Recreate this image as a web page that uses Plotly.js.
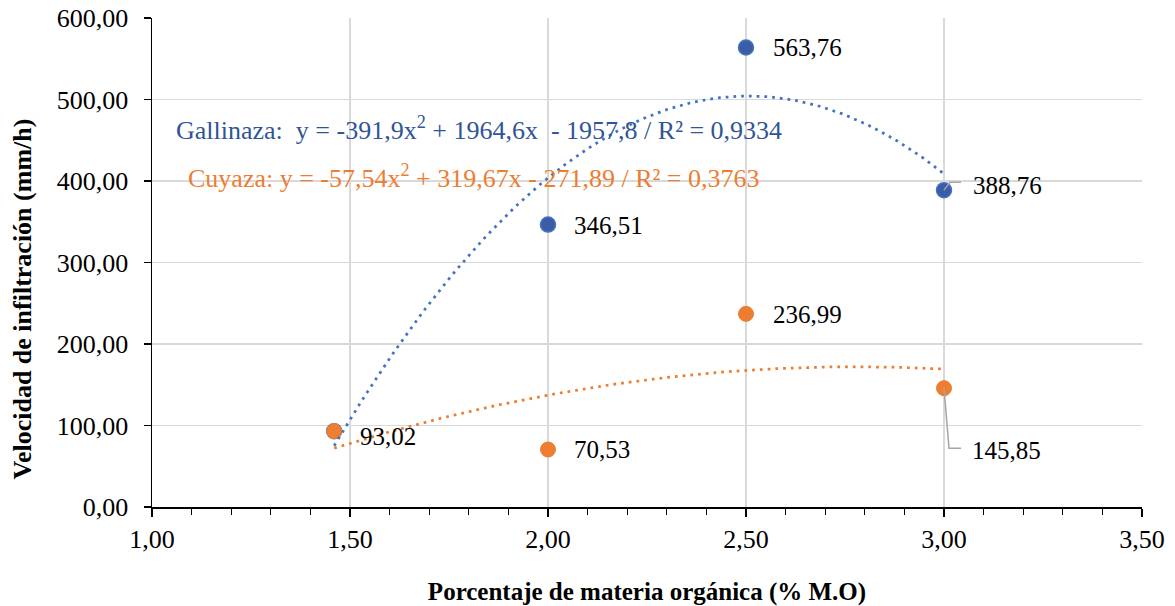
<!DOCTYPE html>
<html>
<head>
<meta charset="utf-8">
<script src="https://cdn.plot.ly/plotly-3.0.1.min.js"></script>
<style>html,body{margin:0;padding:0;background:#fff;}#chart{width:1175px;height:606px;}</style>
</head>
<body>
<div id="chart"></div>
<script>
// ---- data ----
const seriesNames = ["Gallinaza", "Cuyaza"];
const xGallinaza = [1.46, 2.00, 2.50, 3.00];
const yGallinaza = [93.02, 346.51, 563.76, 388.76];
const xCuyaza = [1.46, 2.00, 2.50, 3.00];
const yCuyaza = [93.02, 70.53, 236.99, 145.85];
const equationGallinaza = "Gallinaza:  y = -391,9x<sup>2</sup> + 1964,6x  - 1957,8 / R² = 0,9334";
const equationCuyaza = "Cuyaza: y = -57,54x<sup>2</sup> + 319,67x - 271,89 / R² = 0,3763";
const xTitle = "Porcentaje de materia orgánica (% M.O)";
const yTitle = "Velocidad de infiltración (mm/h)";

// ---- styles ----
const FONT = 'Liberation Serif, Times New Roman, serif';
const BLUE = '#4472C4', BLUE_DARK = '#3A5DA6', BLUE_TEXT = '#2F5597', ORANGE = '#ED7D31';

// least squares quadratic fit (trendline as computed by the spreadsheet)
function quadFit(xs, ys) {
  let S = [0,0,0,0,0], T = [0,0,0];
  for (let i = 0; i < xs.length; i++) {
    let p = 1;
    for (let k = 0; k < 5; k++) { S[k] += p; p *= xs[i]; }
    p = 1;
    for (let k = 0; k < 3; k++) { T[k] += p * ys[i]; p *= xs[i]; }
  }
  const A = [[S[0],S[1],S[2],T[0]],[S[1],S[2],S[3],T[1]],[S[2],S[3],S[4],T[2]]];
  for (let c = 0; c < 3; c++) {
    for (let r = c + 1; r < 3; r++) {
      const f = A[r][c] / A[c][c];
      for (let k = c; k < 4; k++) A[r][k] -= f * A[c][k];
    }
  }
  const b = [0,0,0];
  for (let r = 2; r >= 0; r--) {
    let s = A[r][3];
    for (let k = r + 1; k < 3; k++) s -= A[r][k] * b[k];
    b[r] = s / A[r][r];
  }
  return b; // c0, c1, c2
}
function trend(xs, ys) {
  const b = quadFit(xs, ys);
  const lo = Math.min(...xs), hi = Math.max(...xs);
  const tx = [], ty = [];
  const n = 120;
  for (let i = 0; i <= n; i++) {
    const x = lo + (hi - lo) * i / n;
    tx.push(x); ty.push(b[0] + b[1] * x + b[2] * x * x);
  }
  return {x: tx, y: ty};
}
const tG = trend(xGallinaza, yGallinaza);
const tC = trend(xCuyaza, yCuyaza);

const traces = [
  {x: xGallinaza, y: yGallinaza, name: seriesNames[0], type: 'scatter', mode: 'markers',
   marker: {size: 15, color: BLUE_DARK, line: {color: BLUE, width: 1.5}}, cliponaxis: false},
  {x: xCuyaza, y: yCuyaza, name: seriesNames[1], type: 'scatter', mode: 'markers',
   marker: {size: 15, color: ORANGE, line: {color: ORANGE, width: 1}}, cliponaxis: false},
  {x: tG.x, y: tG.y, type: 'scatter', mode: 'lines', line: {color: BLUE, width: 2.75, dash: '2.75px,5px'}, hoverinfo: 'skip'},
  {x: tC.x, y: tC.y, type: 'scatter', mode: 'lines', line: {color: ORANGE, width: 2.75, dash: '2.75px,5px'}, hoverinfo: 'skip'}
];

function fmt(v) { return v.toFixed(2).replace('.', ','); }

// label placement (pixel offsets) per series / point
const labelOffsets = [
  [[24, -5], [24, -1], [25, 0], [27, 5]],
  [null, [24, 0], [25, -1], [26, -62]]
];
const annotations = [];
[[xGallinaza, yGallinaza], [xCuyaza, yCuyaza]].forEach((s, si) => {
  s[0].forEach((x, i) => {
    const off = labelOffsets[si][i];
    if (!off) return;
    annotations.push({x: x, y: s[1][i], xref: 'x', yref: 'y', text: fmt(s[1][i]), showarrow: false,
      xanchor: 'left', yanchor: 'middle', xshift: off[0], yshift: off[1],
      font: {family: FONT, size: 25, color: '#000'}});
  });
});
annotations.push({x: 1.056, y: 465, xref: 'x', yref: 'y', text: equationGallinaza, showarrow: false,
  xanchor: 'left', yanchor: 'middle', font: {family: FONT, size: 26, color: BLUE_TEXT}});
annotations.push({x: 1.086, y: 405, xref: 'x', yref: 'y', text: equationCuyaza, showarrow: false,
  xanchor: 'left', yanchor: 'middle', font: {family: FONT, size: 26, color: ORANGE}});
// y axis title
annotations.push({x: -0.131, y: 0.425, xref: 'paper', yref: 'paper', text: '<b>' + yTitle + '</b>',
  textangle: -90, showarrow: false, xanchor: 'center', yanchor: 'middle',
  font: {family: FONT, size: 26, color: '#000'}});

// leader lines for the labels at x = 3,00
const shapes = [
  {type: 'path', xref: 'x', yref: 'y', xsizemode: 'pixel', ysizemode: 'pixel',
   xanchor: xGallinaza[3], yanchor: yGallinaza[3], path: 'M0,0 L6,8 L17,8',
   line: {color: '#A6A6A6', width: 1.5}},
  {type: 'path', xref: 'x', yref: 'y', xsizemode: 'pixel', ysizemode: 'pixel',
   xanchor: xCuyaza[3], yanchor: yCuyaza[3], path: 'M0,0 L5,-60 L17,-60',
   line: {color: '#A6A6A6', width: 1.5}}
];

const layout = {
  width: 1175, height: 606,
  margin: {l: 152, r: 33, t: 18, b: 99},
  paper_bgcolor: '#fff', plot_bgcolor: '#fff',
  showlegend: false,
  separators: ',.',
  font: {family: FONT, size: 24, color: '#000'},
  xaxis: {
    range: [1, 3.5], dtick: 0.5, tick0: 1, tickformat: '.2f',
    showgrid: true, gridcolor: '#D9D9D9', gridwidth: 1.3,
    showline: true, linecolor: '#000', linewidth: 1.5,
    ticks: 'outside', ticklen: 8, tickwidth: 1.5, tickcolor: '#000',
    minor: {dtick: 0.1, tick0: 1, ticks: 'outside', ticklen: 6, tickwidth: 1.3, tickcolor: '#000', showgrid: false},
    zeroline: false,
    tickfont: {family: FONT, size: 26, color: '#000'},
    title: {text: '<b>' + xTitle + '</b>', font: {family: FONT, size: 25, color: '#000'}, standoff: 36}
  },
  yaxis: {
    range: [0, 600], dtick: 100, tickformat: '.2f',
    showgrid: true, gridcolor: '#D9D9D9', gridwidth: 1.3,
    showline: true, linecolor: '#000', linewidth: 1.5,
    ticks: 'outside', ticklen: 7, tickwidth: 1.5, tickcolor: '#000',
    ticklabelstandoff: 10,
    zeroline: false,
    tickfont: {family: FONT, size: 26, color: '#000'}
  },
  annotations: annotations,
  shapes: shapes
};

Plotly.newPlot('chart', traces, layout, {displayModeBar: false, staticPlot: true});
</script>
</body>
</html>
